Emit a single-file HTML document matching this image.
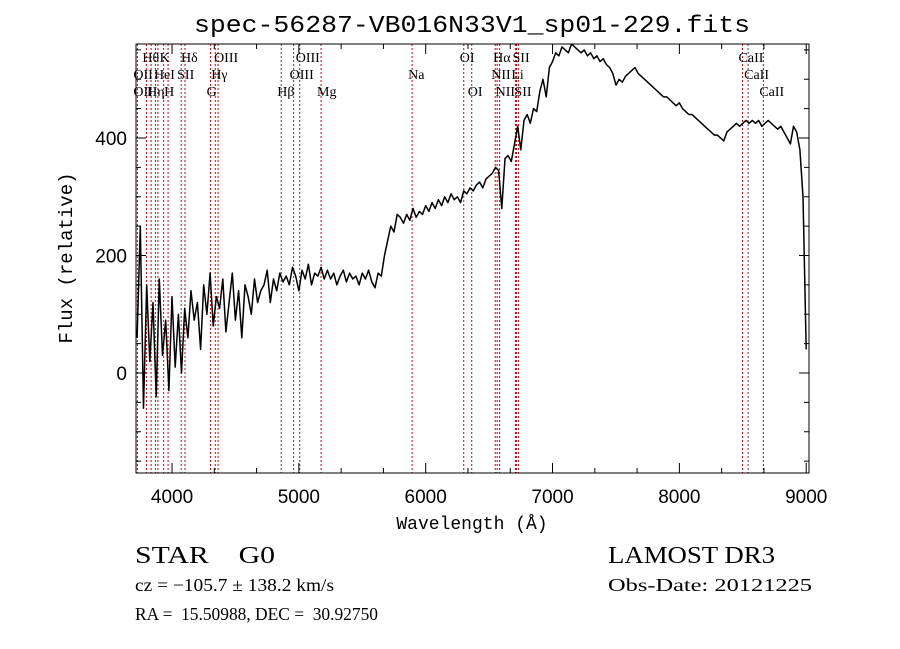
<!DOCTYPE html>
<html><head><meta charset="utf-8"><style>
html,body{margin:0;padding:0;background:#fff;}
svg{display:block;}
text{fill:#000;white-space:pre;}
</style></head><body>
<svg id="chart" width="900" height="649" xmlns="http://www.w3.org/2000/svg" xml:space="preserve">
<rect width="900" height="649" fill="#fff"/>
<text x="472" y="32" text-anchor="middle" font-family="Liberation Mono, monospace" font-size="24" textLength="556" lengthAdjust="spacingAndGlyphs">spec-56287-VB016N33V1_sp01-229.fits</text>
<g id="lines"></g>
<g id="spec"></g>
<g id="axes"></g>
<text x="472" y="529" text-anchor="middle" font-family="Liberation Mono, monospace" font-size="18">Wavelength (Å)</text>
<text transform="translate(72,258) rotate(-90)" text-anchor="middle" font-family="Liberation Mono, monospace" font-size="19">Flux (relative)</text>
<g font-family="Liberation Serif, serif">
<text x="135" y="563" font-size="24" textLength="140" lengthAdjust="spacingAndGlyphs">STAR    G0</text>
<text x="608" y="563" font-size="24" textLength="167" lengthAdjust="spacingAndGlyphs">LAMOST DR3</text>
<text x="135" y="591" font-size="18" textLength="199" lengthAdjust="spacingAndGlyphs">cz = −105.7 ± 138.2 km/s</text>
<text x="608" y="591" font-size="18" textLength="204" lengthAdjust="spacingAndGlyphs">Obs-Date: 20121225</text>
<text x="135" y="620" font-size="18" textLength="243" lengthAdjust="spacingAndGlyphs">RA =  15.50988, DEC =  30.92750</text>
</g>
</svg>
<script>
const wlStart = 3725, wlStep = 25;
const flux = [
60,250,-60,150,20,120,-40,160,30,90,-30,130,10,100,0,110,60,140,90,120,
40,150,100,170,80,130,110,160,70,120,170,90,140,60,150,130,100,160,120,140,
150,175,120,160,140,170,155,165,150,180,165,140,175,160,185,150,170,165,180,160,
175,160,170,150,165,175,155,170,160,165,150,170,160,175,155,145,170,165,200,225,
250,240,270,265,255,270,260,280,265,275,270,285,275,290,280,295,285,300,290,305,
295,300,290,310,305,315,310,320,325,315,330,335,340,350,345,280,365,370,360,390,
420,380,430,440,425,450,445,480,500,470,520,530,545,540,555,550,545,560,555,550,
545,550,540,545,535,540,530,535,525,520,510,490,500,495,505,510,515,520,510,505,
500,495,490,485,480,475,470,470,465,460,455,460,450,445,440,440,435,430,425,420,
415,410,405,405,400,395,410,415,420,425,420,425,430,425,430,425,430,420,425,430,
425,420,415,420,410,400,390,420,410,380,300,40];
const lineWl = [3727,3798,3835,3869,3889,3934,3969,4072,4102,4304,4341,4363,4861,4959,5007,5175,5893,6300,6363,6548,6563,6583,6707,6716,6731,8498,8542,8662];
const lineRed = [1,1,1,0,1,1,1,0,1,1,1,1,0,0,0,1,1,1,0,1,1,1,1,1,1,1,0,1];
const labelText = ["Hθ","K","Hδ","OIII","OIII","OI","Hα","SII","CaII",
 "OII","HeI","SII","Hγ","OIII","Na","NII","Li","CaII",
 "OII","Hη","H","G","Hβ","Mg","OI","NII","SII","CaII"];
const labelWl = [3798,3934,4102,4363,5007,6300,6563,6716,8498,
 3727,3889,4072,4341,4959,5893,6548,6707,8542,
 3727,3835,3969,4304,4861,5175,6363,6583,6731,8662];
const labelRow = [0,0,0,0,0,0,0,0,0, 1,1,1,1,1,1,1,1,1, 2,2,2,2,2,2,2,2,2,2];
const xTicks = [4000,5000,6000,7000,8000,9000];
const yTicks = [0,200,400];

const L=136,R=809,T=44,B=473;
const xMin=3716,xMax=9022;
const X=v=>L+(v-xMin)/(xMax-xMin)*(R-L);
const Y=v=>373-(v)*0.5875;
const NS='http://www.w3.org/2000/svg';
function mk(tag,attrs,parent){const e=document.createElementNS(NS,tag);for(const k in attrs)e.setAttribute(k,attrs[k]);parent.appendChild(e);return e;}

const gL=document.getElementById('lines');
lineWl.forEach((w,i)=>{
  const l=mk('line',{x1:X(w),x2:X(w),y1:T,y2:B,stroke:lineRed[i]?'#c00':'#444','stroke-width':1,'stroke-dasharray':'2,2'},gL);
  
  
});
const rowY=[62,79,96];
labelText.forEach((t,i)=>{
  const e=mk('text',{x:X(labelWl[i])-4,y:rowY[labelRow[i]],'font-family':'Liberation Serif, serif','font-size':14},gL);
  e.textContent=t;
  
  
});

const gS=document.getElementById('spec');
const pts=flux.map((f,i)=>X(wlStart+i*wlStep).toFixed(1)+','+Math.max(T,Math.min(B,Y(f))).toFixed(1)).join(' ');
const pl=mk('polyline',{points:pts,fill:'none',stroke:'#000','stroke-width':1.5,'stroke-linejoin':'round'},gS);



const gA=document.getElementById('axes');
const box=mk('rect',{x:L,y:T,width:R-L,height:B-T,fill:'none',stroke:'#000','stroke-width':1},gA);


for(let w=3000;w<=9100;w+=1000/3){
  if(w<xMin||w>xMax)continue;
  const major=Math.abs(Math.round(w/1000)*1000-w)<1;
  const len=major?10:5;
  mk('line',{x1:X(w),x2:X(w),y1:B,y2:B-len,stroke:'#000'},gA);
  mk('line',{x1:X(w),x2:X(w),y1:T,y2:T+len,stroke:'#000'},gA);
}
for(let v=-150;v<=550;v+=50){
  const len=v%200===0?10:5;
  mk('line',{x1:L,x2:L+len,y1:Y(v),y2:Y(v),stroke:'#000'},gA);
  mk('line',{x1:R,x2:R-len,y1:Y(v),y2:Y(v),stroke:'#000'},gA);
}
xTicks.forEach(t=>{
  const e=mk('text',{x:X(t),y:B+30,'text-anchor':'middle','font-family':'Liberation Sans, sans-serif','font-size':19},gA);
  e.textContent=t;
  
  
});
yTicks.forEach(t=>{
  const e=mk('text',{x:127,y:Y(t)+7,'text-anchor':'end','font-family':'Liberation Sans, sans-serif','font-size':19},gA);
  e.textContent=t;
  
  
});
</script>
</body></html>
